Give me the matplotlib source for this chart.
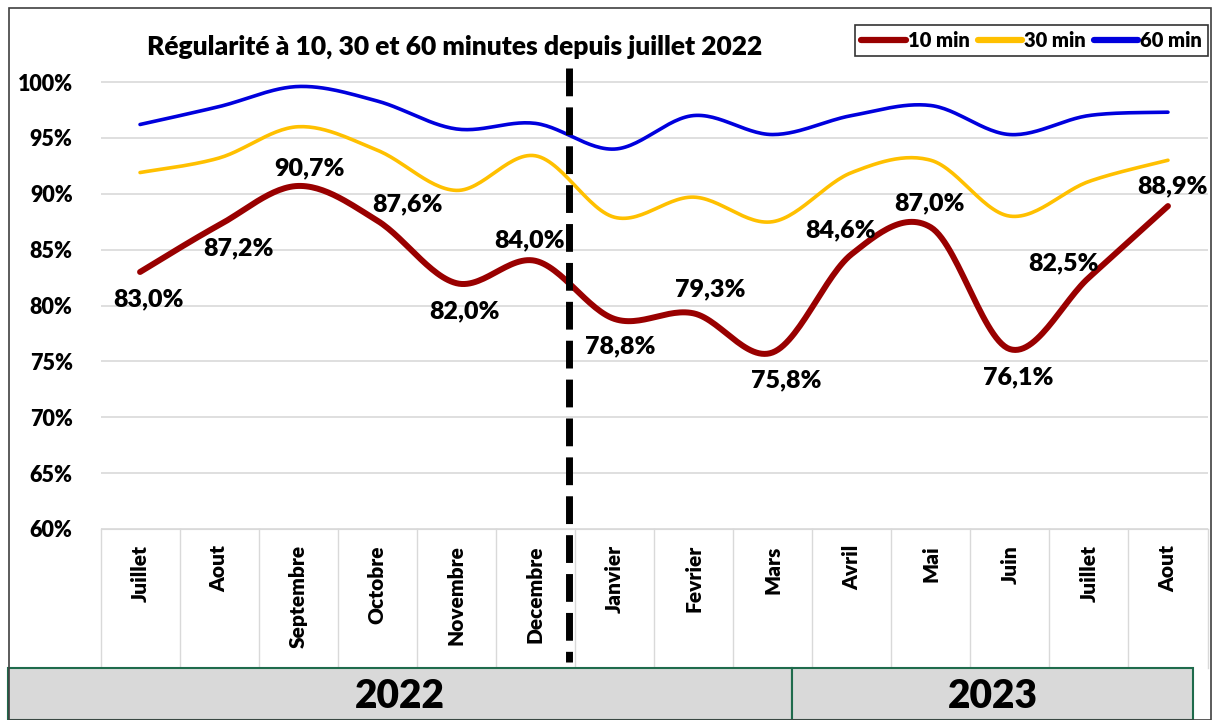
import numpy as np
import matplotlib.pyplot as plt
from matplotlib.patches import Rectangle
from matplotlib.transforms import blended_transform_factory

plt.rcParams['font.family'] = ['Lato', 'DejaVu Sans']
plt.rcParams['font.weight'] = 'heavy'

# data
months = ['Juillet', 'Aout', 'Septembre', 'Octobre', 'Novembre', 'Decembre',
          'Janvier', 'Fevrier', 'Mars', 'Avril', 'Mai', 'Juin', 'Juillet', 'Aout']
min10 = [83.0, 87.2, 90.7, 87.6, 82.0, 84.0, 78.8, 79.3, 75.8, 84.6, 87.0, 76.1, 82.5, 88.9]
min30 = [91.9, 93.2, 96.0, 93.9, 90.3, 93.4, 87.9, 89.7, 87.5, 91.9, 93.0, 88.0, 91.1, 93.0]
min60 = [96.2, 97.8, 99.6, 98.3, 95.8, 96.3, 94.0, 97.0, 95.3, 97.0, 97.9, 95.3, 97.0, 97.3]
years = ['2022', '2023']

# label offsets (points) for the 10 min data labels
label_off = [(6, -20), (14, -17), (8, 13), (22, 12), (6, -20), (-4, 15),
             (4, -20), (12, 17), (10, -20), (-8, 17), (-1, 17), (6, -20),
             (-18, 10), (3, 14)]


def smooth(y, n=30):
    # excel-like smoothed line (catmull-rom bezier)
    x = np.arange(len(y), dtype=float)
    y = np.asarray(y, dtype=float)
    px = np.concatenate([[x[0]], x, [x[-1]]])
    py = np.concatenate([[y[0]], y, [y[-1]]])
    xs, ys = [], []
    t = np.linspace(0, 1, n)
    for i in range(len(y) - 1):
        p0 = np.array([px[i + 1], py[i + 1]])
        p3 = np.array([px[i + 2], py[i + 2]])
        c1 = p0 + (p3 - np.array([px[i], py[i]])) / 6
        c2 = p3 - (np.array([px[i + 3], py[i + 3]]) - p0) / 6
        b = ((1 - t) ** 3)[:, None] * p0 + (3 * (1 - t) ** 2 * t)[:, None] * c1 \
            + (3 * (1 - t) * t ** 2)[:, None] * c2 + (t ** 3)[:, None] * p3
        xs.append(b[:, 0])
        ys.append(b[:, 1])
    return np.concatenate(xs), np.concatenate(ys)


fig = plt.figure(figsize=(12.12, 7.2), dpi=100)
ax = fig.add_axes([100.5 / 1212, 1 - 529 / 720, 1107 / 1212, 461.5 / 720])

x10, y10 = smooth(min10)
x30, y30 = smooth(min30)
x60, y60 = smooth(min60)
ax.plot(x60, y60, color='#0000dd', lw=2.6, label='60 min', solid_capstyle='round')
ax.plot(x30, y30, color='#ffc000', lw=2.6, label='30 min', solid_capstyle='round')
ax.plot(x10, y10, color='#990000', lw=4.3, label='10 min', solid_capstyle='round')

for i, v in enumerate(min10):
    ax.annotate(f'{v:.1f}%'.replace('.', ','), (i, v), xytext=label_off[i],
                textcoords='offset points', ha='center', va='center',
                fontsize=18)

ax.set_xlim(-0.5, len(months) - 0.5)
ax.set_ylim(60, 101.3)
ax.set_yticks(range(60, 101, 5))
ax.set_yticklabels([f'{v}%' for v in range(60, 101, 5)], fontsize=15.5)
ax.tick_params(axis='y', length=0, pad=20)
ax.set_xticks([])
ax.grid(axis='y', color='#d9d9d9', lw=1.2)
ax.set_axisbelow(True)
for s in ['top', 'right', 'left']:
    ax.spines[s].set_visible(False)
ax.spines['bottom'].set_color('#d9d9d9')

# category labels and separators below the axis
tr = blended_transform_factory(ax.transData, ax.transAxes)
for i, m in enumerate(months):
    ax.text(i, -0.035, m, transform=tr, rotation=90, ha='center', va='top',
            fontsize=15)
for i in range(len(months) + 1):
    ax.plot([i - 0.5, i - 0.5], [0, -0.301], transform=tr, color='#d9d9d9',
            lw=1, clip_on=False)

# dashed separator between years
ax.plot([5.42, 5.42], [1.0, -0.288], transform=tr, color='black', lw=5,
        dashes=(4, 1.6), clip_on=False)

ax.set_title('Régularité à 10, 30 et 60 minutes depuis juillet 2022', fontsize=19,
             fontweight='heavy', x=(455 - 100.5) / 1107, y=1.0, pad=9)

h, l = ax.get_legend_handles_labels()
leg = fig.legend(h[::-1], l[::-1], loc='upper right', bbox_to_anchor=(1208 / 1212, 1 - 25 / 720),
                 ncol=3, fontsize=14.5, frameon=True, fancybox=False, edgecolor='black',
                 handlelength=2.2, columnspacing=0.4, handletextpad=0.1, borderpad=0.3,
                 borderaxespad=0)
leg.get_frame().set_linewidth(1.2)
for ln in leg.get_lines():
    ln.set_linewidth(4.5)

# year boxes
boxes = [(8, 792), (792, 1193)]
for (x0, x1), yr in zip(boxes, years):
    fig.patches.append(Rectangle((x0 / 1212, 0), (x1 - x0) / 1212, 52 / 720,
                                 transform=fig.transFigure, facecolor='#d9d9d9',
                                 edgecolor='#1f6b4c', lw=1.5))
    fig.text((x0 + x1) / 2 / 1212, 1 - 697 / 720, yr, ha='center', va='center',
             fontsize=28)

# outer frame
fig.patches.append(Rectangle((9 / 1212, 0), 1202 / 1212, 712 / 720,
                             transform=fig.transFigure, fill=False,
                             edgecolor='#404040', lw=1.2))

fig.savefig('out.png', dpi=100)
